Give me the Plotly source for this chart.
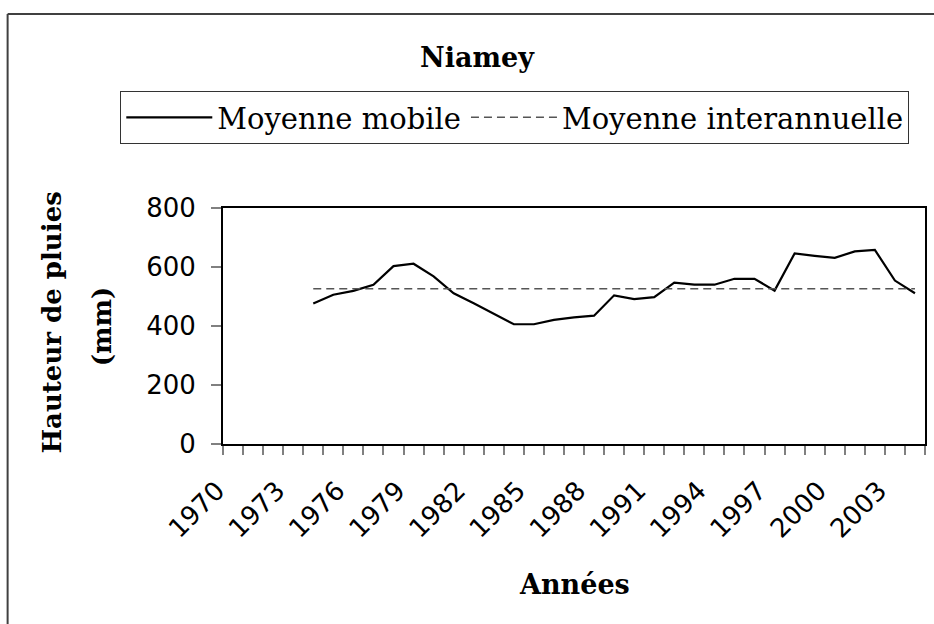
import plotly.graph_objects as go

# ---- data ----
years = list(range(1970, 2005))
moyenne_mobile = [None, None, None, None,
                  476, 506, 519, 540, 603, 611, 568, 511, 477, 441,
                  406, 406, 421, 429, 435, 504, 491, 498, 547, 540,
                  540, 560, 560, 520, 646, 638, 631, 653, 658, 554, 511]
moyenne_interannuelle = 526
mean_years = [1974, 2004]
tick_years = [1970, 1973, 1976, 1979, 1982, 1985, 1988, 1991, 1994, 1997, 2000, 2003]
tick_labels = [str(y) for y in tick_years]
y_ticks = [0, 200, 400, 600, 800]

W, H = 934, 624
L, R, T, B = 223, 7, 208, 180
PW, PH = W - L - R, H - T - B


def px(x):
    return (x - L) / PW


def py(y):
    return (H - B - y) / PH


fig = go.Figure()
fig.add_trace(go.Scatter(
    x=years, y=moyenne_mobile, mode="lines", name="Moyenne mobile",
    line=dict(color="black", width=2.2), connectgaps=False))
fig.add_trace(go.Scatter(
    x=mean_years, y=[moyenne_interannuelle] * len(mean_years), mode="lines",
    name="Moyenne interannuelle",
    line=dict(color="#555555", width=1.5, dash="8px,5px")))

serif = "DejaVu Serif"
sans = "DejaVu Sans"

fig.update_layout(
    width=W, height=H,
    margin=dict(l=L, r=R, t=T, b=B, pad=0),
    paper_bgcolor="white", plot_bgcolor="white",
    showlegend=True,
    legend=dict(orientation="h", x=px(120), xanchor="left", y=py(91), yanchor="top",
                font=dict(family=serif, size=29, color="black"),
                bordercolor="#333333", borderwidth=1, bgcolor="white",
                itemwidth=86),
    xaxis=dict(range=[1969.5, 2004.5], tickvals=tick_years, ticktext=tick_labels,
               tickangle=-45, ticks="", showgrid=False, zeroline=False,
               showline=True, linecolor="black", linewidth=2, mirror=True,
               tickfont=dict(family=sans, size=26, color="black"),
               ticklabelshift=-16, ticklabelstandoff=19,
               minor=dict(tick0=1969.5, dtick=1, ticks="outside", ticklen=9,
                          tickcolor="#808080", tickwidth=1.5, showgrid=False)),
    yaxis=dict(range=[0, 800], tickvals=y_ticks, ticks="outside", ticklen=10,
               tickcolor="#808080", tickwidth=1.5, showgrid=False, zeroline=False,
               showline=True, linecolor="black", linewidth=2, mirror=True,
               tickfont=dict(family=sans, size=26, color="black"),
               ticklabelstandoff=10),
    annotations=[
        dict(text="<b>Niamey</b>", x=px(478), y=py(58), xref="paper", yref="paper",
             showarrow=False, xanchor="center", yanchor="middle",
             font=dict(family=serif, size=27, color="black")),
        dict(text="<b>Hauteur de pluies</b>", x=px(52), y=py(322), xref="paper", yref="paper",
             showarrow=False, textangle=-90, xanchor="center", yanchor="middle",
             font=dict(family=serif, size=26, color="black")),
        dict(text="<b>(mm)</b>", x=px(102), y=py(326), xref="paper", yref="paper",
             showarrow=False, textangle=-90, xanchor="center", yanchor="middle",
             font=dict(family=serif, size=26, color="black")),
        dict(text="<b>Années</b>", x=px(576), y=py(584), xref="paper", yref="paper",
             showarrow=False, xanchor="center", yanchor="middle",
             font=dict(family=serif, size=27, color="black")),
    ],
    shapes=[
        dict(type="line", xref="paper", yref="paper", x0=px(7), x1=px(W + 5),
             y0=py(14), y1=py(14), line=dict(color="#404040", width=2)),
        dict(type="line", xref="paper", yref="paper", x0=px(7), x1=px(7),
             y0=py(14), y1=py(H + 5), line=dict(color="#404040", width=2)),
    ],
)

fig.write_html("out.html", config={"displayModeBar": False},
               post_script="document.body.style.margin='0';document.body.style.overflow='hidden';")
